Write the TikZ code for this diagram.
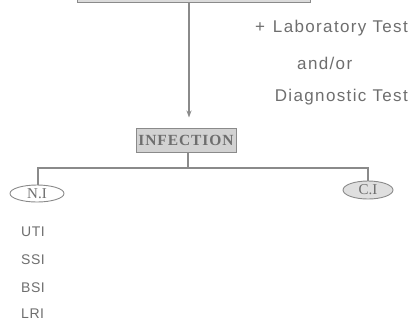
\documentclass[tikz,border=0pt]{standalone}
\usepackage{fontspec}
\setmainfont{Liberation Serif}
\setsansfont{Liberation Sans}
\usepackage{tikz}
\usetikzlibrary{arrows.meta,positioning,shapes.geometric}
\definecolor{ink}{HTML}{6E6E6E}
\definecolor{wire}{HTML}{8A8A8A}
\definecolor{shade}{HTML}{D2D2D2}

\begin{document}
\begin{tikzpicture}[
  x=1pt,y=-1pt,
  wirestyle/.style={draw=wire,line width=1.2pt},
  boxed/.style={draw=wire,fill=shade,line width=1pt,inner sep=0pt,
    minimum width=100pt,minimum height=24pt,
    font=\fontsize{15.5}{17}\selectfont\bfseries\addfontfeature{LetterSpace=6},text=ink},
  site/.style={ellipse,draw=wire,line width=0.9pt,inner sep=0pt,text=ink,
    font=\fontsize{15}{17}\selectfont},
  note/.style={font=\sffamily\fontsize{17}{19}\selectfont\addfontfeature{LetterSpace=8},
    text=ink,inner sep=0pt},
  item/.style={font=\sffamily\fontsize{14}{16}\selectfont\addfontfeature{LetterSpace=4},
    text=ink,inner sep=0pt,anchor=west},
]
\useasboundingbox (0,0) rectangle (414,322);
\clip (0,0) rectangle (414,322);

% cut-off box at the top
\node[draw=wire,fill=shade!80,line width=1pt,minimum width=233pt,minimum height=14pt,
  anchor=south,inner sep=0pt] (top) at (193.5,3) {};

% right-hand note
\node[note,anchor=east] (lab) at (408,28) {+\hspace{8pt}Laboratory Test};
\node[note,anchor=west] (andor) at (297,63) {and/or};
\node[note,anchor=east] (diag) at (408,97) {Diagnostic Test};

% infection and its two branches
\node[boxed] (inf) at (186,140) {INFECTION};
\node[site,minimum width=54pt,minimum height=17pt] (ni) at (37,193.5) {N.I};
\node[site,fill=shade!70,minimum width=50pt,minimum height=18pt] (ci) at (368,190) {C.I};
\coordinate (split) at (188,168);

\draw[wirestyle,-{Stealth[length=7pt,width=5pt]},shorten >=10pt]
  (top.south -| 189,0) -- (inf.north -| 189,0);
\draw[wirestyle] (inf.south -| split) -- (split);
\draw[wirestyle] (ni.north -| 38,0) |- (split) -| (ci.north);

% kinds of N.I
\node[item] (uti) at (21,232) {UTI};
\node[item] (ssi) at (21,260) {SSI};
\node[item] (bsi) at (21,288) {BSI};
\node[item] (lri) at (21,314) {LRI};
\end{tikzpicture}
\end{document}
